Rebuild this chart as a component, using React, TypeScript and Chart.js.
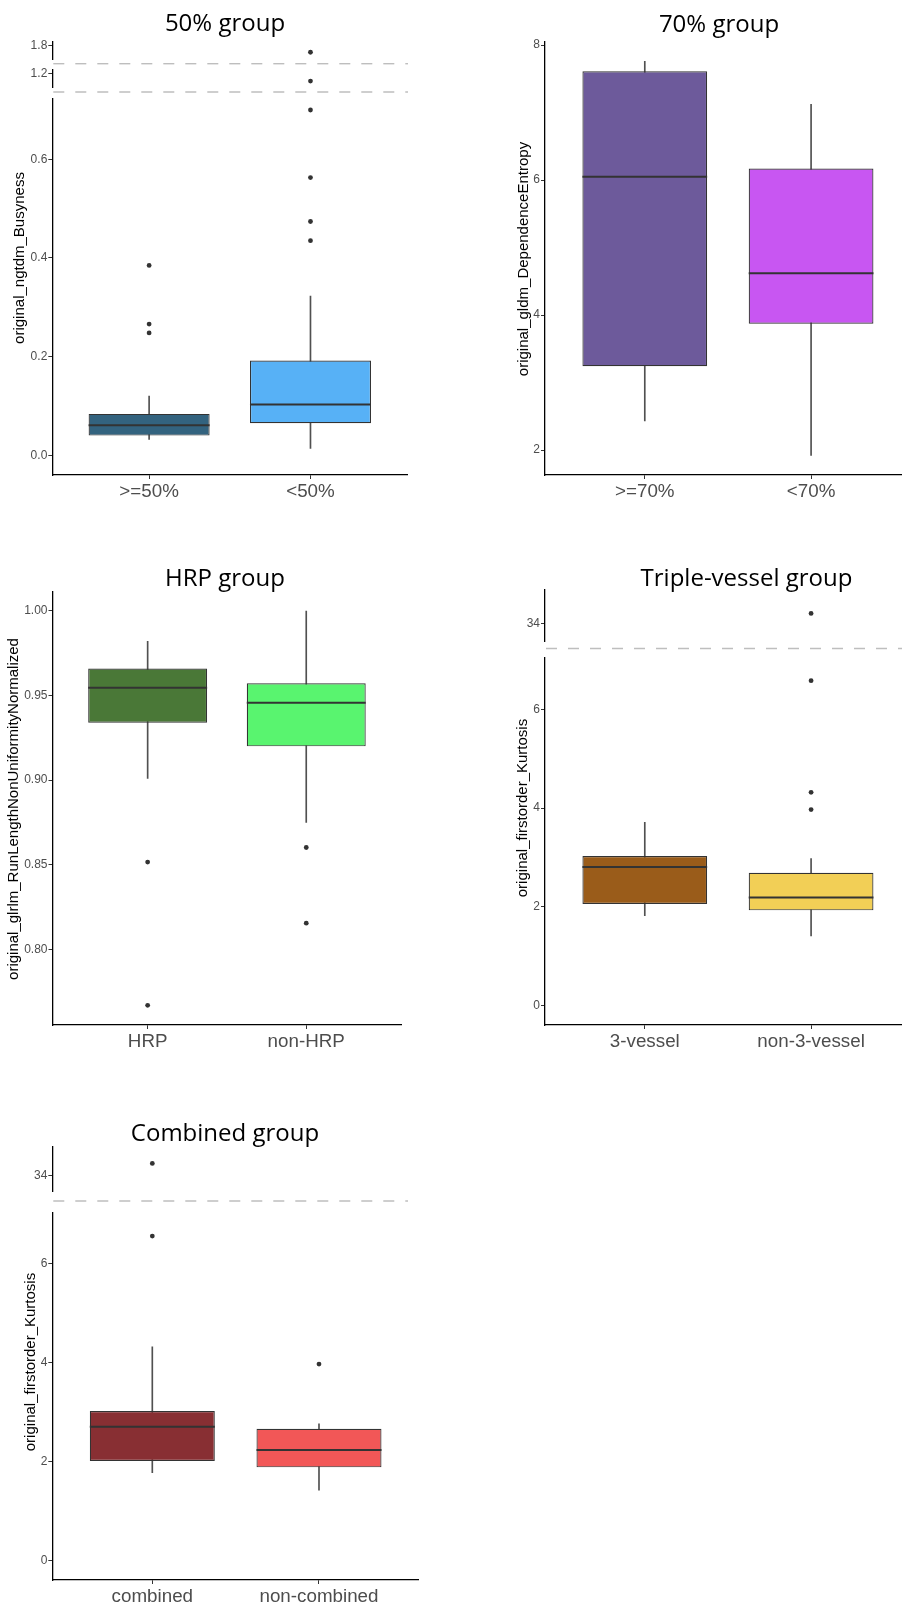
import React, { useEffect, useRef } from 'react';
import { Chart, registerables } from 'chart.js';

Chart.register(...registerables);
Chart.defaults.font.family = '"Liberation Sans", Arial, sans-serif';

// ---------------- data ----------------
// 50% group
const p1Categories = ['>=50%', '<50%'];
const p1WhiskerLow = [0.032, 0.014];
const p1Q1 = [0.040, 0.065];
const p1Median = [0.061, 0.103];
const p1Q3 = [0.084, 0.192];
const p1WhiskerHigh = [0.120, 0.323];
const p1Outliers = [[0.248, 0.266, 0.385], [0.435, 0.474, 0.563, 0.700, 1.10, 1.70]];
const p1TicksTop = [1.8];
const p1TicksMid = [1.2];
const p1TicksMain = [0.0, 0.2, 0.4, 0.6];

// 70% group
const p2Categories = ['>=70%', '<70%'];
const p2WhiskerLow = [2.43, 1.92];
const p2Q1 = [3.24, 3.87];
const p2Median = [6.05, 4.62];
const p2Q3 = [7.61, 6.17];
const p2WhiskerHigh = [7.76, 7.12];
const p2Outliers: number[][] = [[], []];
const p2Ticks = [2, 4, 6, 8];

// HRP group
const p3Categories = ['HRP', 'non-HRP'];
const p3WhiskerLow = [0.901, 0.875];
const p3Q1 = [0.934, 0.920];
const p3Median = [0.9547, 0.9457];
const p3Q3 = [0.966, 0.9573];
const p3WhiskerHigh = [0.982, 1.000];
const p3Outliers = [[0.7669, 0.8516], [0.8155, 0.8602]];
const p3Ticks = [0.80, 0.85, 0.90, 0.95, 1.00];

// Triple-vessel group
const p4Categories = ['3-vessel', 'non-3-vessel'];
const p4WhiskerLow = [1.82, 1.41];
const p4Q1 = [2.06, 1.93];
const p4Median = [2.81, 2.19];
const p4Q3 = [3.03, 2.69];
const p4WhiskerHigh = [3.71, 2.98];
const p4Outliers = [[], [3.97, 4.32, 6.58, 34.2]];
const p4TicksTop = [34];
const p4TicksMain = [0, 2, 4, 6];

// Combined group
const p5Categories = ['combined', 'non-combined'];
const p5WhiskerLow = [1.77, 1.42];
const p5Q1 = [2.01, 1.88];
const p5Median = [2.70, 2.23];
const p5Q3 = [3.02, 2.66];
const p5WhiskerHigh = [4.32, 2.76];
const p5Outliers = [[6.56, 34.24], [3.97]];
const p5TicksTop = [34];
const p5TicksMain = [0, 2, 4, 6];

// ---------------- styling / layout ----------------
const BOX_WIDTH = 0.75;
const PAD = 14;
const X_AXIS_SPACE = 34;
const TICK_FONT = 12;
const X_LABEL_FONT = 18.8;
const TEXT_GREY = '#4D4D4D';
const DARK = '#333333';

type Segment = { top: number; bottom: number; min: number; max: number; ticks: number[] };
type PanelSpec = {
  title: string;
  yTitle: string;
  categories: string[];
  low: number[];
  q1: number[];
  median: number[];
  q3: number[];
  high: number[];
  outliers: number[][];
  fills: string[];
  decimals: number;
  left: number;
  axisX: number;
  plotRight: number;
  xMax: number;
  segments: Segment[];
  dashes: number[];
  dashEnd: number;
  titleX: number;
  titleBaseline: number;
  yTitleX: number;
  yTitleY: number;
};

const panels: PanelSpec[] = [
  {
    title: '50% group', yTitle: 'original_ngtdm_Busyness',
    categories: p1Categories, low: p1WhiskerLow, q1: p1Q1, median: p1Median, q3: p1Q3, high: p1WhiskerHigh,
    outliers: p1Outliers, fills: ['#33637F', '#57B1F6'], decimals: 1,
    left: 0, axisX: 52.3, plotRight: 407.3, xMax: 2.6,
    segments: [
      { top: 41.7, bottom: 59.3, min: 1.6, max: 1.85, ticks: p1TicksTop },
      { top: 69.3, bottom: 87.3, min: 1.02, max: 1.25, ticks: p1TicksMid },
      { top: 98.3, bottom: 475, min: -0.0399, max: 0.7237, ticks: p1TicksMain },
    ],
    dashes: [63.7, 92], dashEnd: 408,
    titleX: 225, titleBaseline: 31.7, yTitleX: 20.5, yTitleY: 258.3,
  },
  {
    title: '70% group', yTitle: 'original_gldm_DependenceEntropy',
    categories: p2Categories, low: p2WhiskerLow, q1: p2Q1, median: p2Median, q3: p2Q3, high: p2WhiskerHigh,
    outliers: p2Outliers, fills: ['#6D5A9B', '#C856F2'], decimals: 0,
    left: 451, axisX: 545, plotRight: 902, xMax: 2.5467,
    segments: [{ top: 41.7, bottom: 475, min: 1.63, max: 8.049, ticks: p2Ticks }],
    dashes: [], dashEnd: 902,
    titleX: 719, titleBaseline: 32.5, yTitleX: 524, yTitleY: 259,
  },
  {
    title: 'HRP group', yTitle: 'original_glrlm_RunLengthNonUniformityNormalized',
    categories: p3Categories, low: p3WhiskerLow, q1: p3Q1, median: p3Median, q3: p3Q3, high: p3WhiskerHigh,
    outliers: p3Outliers, fills: ['#4A7837', '#59F46F'], decimals: 2,
    left: 0, axisX: 52.5, plotRight: 401.4, xMax: 2.6,
    segments: [{ top: 591.7, bottom: 1025, min: 0.7553, max: 1.0114, ticks: p3Ticks }],
    dashes: [], dashEnd: 401,
    titleX: 225, titleBaseline: 586, yTitleX: 13.8, yTitleY: 808.7,
  },
  {
    title: 'Triple-vessel group', yTitle: 'original_firstorder_Kurtosis',
    categories: p4Categories, low: p4WhiskerLow, q1: p4Q1, median: p4Median, q3: p4Q3, high: p4WhiskerHigh,
    outliers: p4Outliers, fills: ['#9A5C1A', '#F2CF56'], decimals: 0,
    left: 451, axisX: 545, plotRight: 902, xMax: 2.5467,
    segments: [
      { top: 590, bottom: 641, min: 33.642, max: 34.674, ticks: p4TicksTop },
      { top: 657.3, bottom: 1025, min: -0.391, max: 7.053, ticks: p4TicksMain },
    ],
    dashes: [648.5], dashEnd: 902,
    titleX: 746.5, titleBaseline: 586, yTitleX: 523.5, yTitleY: 808,
  },
  {
    title: 'Combined group', yTitle: 'original_firstorder_Kurtosis',
    categories: p5Categories, low: p5WhiskerLow, q1: p5Q1, median: p5Median, q3: p5Q3, high: p5WhiskerHigh,
    outliers: p5Outliers, fills: ['#882F33', '#F25757'], decimals: 0,
    left: 0, axisX: 52.3, plotRight: 419, xMax: 2.6,
    segments: [
      { top: 1146.7, bottom: 1191, min: 33.68, max: 34.58, ticks: p5TicksTop },
      { top: 1212.7, bottom: 1580, min: -0.399, max: 7.032, ticks: p5TicksMain },
    ],
    dashes: [1201], dashEnd: 408,
    titleX: 225, titleBaseline: 1141, yTitleX: 31.3, yTitleY: 1362.3,
  },
];

// ---------------- helpers ----------------
function segGeom(p: PanelSpec, si: number) {
  const seg = p.segments[si];
  const last = si === p.segments.length - 1;
  const top = Math.floor(seg.top - PAD);
  const padTop = seg.top - top;
  const inner = seg.bottom - top;
  const height = Math.ceil(inner + (last ? X_AXIS_SPACE : PAD));
  const bottomSpace = height - inner;
  const width = Math.ceil(p.plotRight - p.left);
  const padRight = width - (p.plotRight - p.left);
  return { top, padTop, height, bottomSpace, width, padRight, last };
}

const breakLinePlugin = {
  id: 'breakLine',
  afterDraw(chart: any, _args: any, opts: any) {
    if (!opts || opts.y == null) return;
    const ctx = chart.ctx;
    ctx.save();
    ctx.strokeStyle = '#BEBEBE';
    ctx.lineWidth = 1.4;
    ctx.setLineDash([11, 11]);
    ctx.beginPath();
    ctx.moveTo(opts.x0, opts.y);
    ctx.lineTo(opts.x1, opts.y);
    ctx.stroke();
    ctx.restore();
  },
};

function halfBox(chart: any) {
  const s = chart.scales.x;
  return Math.abs(s.getPixelForValue(1 + BOX_WIDTH / 2) - s.getPixelForValue(1));
}

function buildConfig(p: PanelSpec, si: number): any {
  const seg = p.segments[si];
  const g = segGeom(p, si);
  const xs = p.categories.map((_, i) => i + 1);
  const datasets: any[] = [];
  if (g.last) {
    datasets.push({
      type: 'bar', label: 'whisker',
      data: xs.map((x, i) => ({ x, y: [p.low[i], p.high[i]] })),
      backgroundColor: '#505050', borderWidth: 0, maxBarThickness: 1,
      grouped: false, barPercentage: 1, categoryPercentage: 1, order: 4,
    });
    datasets.push({
      type: 'bar', label: 'box',
      data: xs.map((x, i) => ({ x, y: [p.q1[i], p.q3[i]] })),
      backgroundColor: p.fills, borderColor: DARK, borderWidth: 1.2, borderSkipped: false,
      grouped: false, barPercentage: BOX_WIDTH, categoryPercentage: 1, order: 3,
    });
    datasets.push({
      type: 'line', label: 'median',
      data: xs.map((x, i) => ({ x, y: p.median[i] })),
      showLine: false, pointStyle: 'line',
      pointRadius: (ctx: any) => halfBox(ctx.chart),
      pointBorderWidth: 2, pointBorderColor: DARK, order: 2,
    });
  }
  const pts: { x: number; y: number }[] = [];
  p.outliers.forEach((list, i) => {
    list.forEach((v) => {
      if (v >= seg.min && v <= seg.max) pts.push({ x: i + 1, y: v });
    });
  });
  datasets.push({
    type: 'line', label: 'outliers', data: pts, showLine: false,
    pointStyle: 'circle', pointRadius: 2.4, pointBackgroundColor: DARK,
    pointBorderWidth: 0, order: 1,
  });

  const axisW = p.axisX - p.left;
  const gridOpts = { display: true, offset: false, drawOnChartArea: false, drawTicks: true, tickLength: 4, tickColor: DARK, tickWidth: 1, color: 'rgba(0,0,0,0)' };
  const borderOpts = { display: true, color: '#000000', width: 1.3 };

  const dashY = si > 0 ? p.dashes[si - 1] - g.top : null;

  const xScale: any = {
    type: 'linear',
    display: g.last,
    offset: false,
    min: 0.4,
    max: p.xMax,
    afterBuildTicks: (s: any) => { s.ticks = xs.map((v) => ({ value: v })); },
    ticks: {
      autoSkip: false, maxRotation: 0, minRotation: 0, padding: 2,
      color: TEXT_GREY, font: { size: X_LABEL_FONT },
      callback: (v: any) => p.categories[Math.round(v) - 1] ?? '',
    },
    grid: gridOpts,
    border: borderOpts,
  };
  if (g.last) xScale.afterFit = (s: any) => { s.height = g.bottomSpace; };

  return {
    type: 'bar',
    data: { datasets },
    options: {
      animation: false,
      responsive: false,
      maintainAspectRatio: false,
      events: [],
      layout: {
        autoPadding: false,
        padding: { top: g.padTop, left: 0, right: g.padRight, bottom: g.last ? 0 : g.bottomSpace },
      },
      plugins: {
        legend: { display: false },
        tooltip: { enabled: false },
        title: { display: false },
        breakLine: dashY == null ? {} : { y: dashY, x0: axisW + 1, x1: p.dashEnd - p.left },
      },
      scales: {
        x: xScale,
        y: {
          type: 'linear',
          beginAtZero: false,
          min: seg.min,
          max: seg.max,
          afterBuildTicks: (s: any) => { s.ticks = seg.ticks.map((v) => ({ value: v })); },
          afterFit: (s: any) => { s.width = axisW; },
          ticks: {
            padding: 1, color: TEXT_GREY, font: { size: TICK_FONT },
            callback: (v: any) => Number(v).toFixed(p.decimals),
          },
          grid: gridOpts,
          border: borderOpts,
        },
      },
    },
    plugins: [breakLinePlugin],
  };
}

function Panel({ spec }: { spec: PanelSpec }) {
  const refs = useRef<(HTMLCanvasElement | null)[]>([]);
  useEffect(() => {
    const charts = spec.segments.map((_, si) => new Chart(refs.current[si] as HTMLCanvasElement, buildConfig(spec, si)));
    return () => charts.forEach((c) => c.destroy());
  }, [spec]);
  return (
    <>
      {spec.segments.map((_, si) => {
        const g = segGeom(spec, si);
        return (
          <canvas
            key={si}
            ref={(el) => { refs.current[si] = el; }}
            width={g.width}
            height={g.height}
            style={{ position: 'absolute', left: spec.left, top: g.top, width: g.width, height: g.height, display: 'block' }}
          />
        );
      })}
      <div
        style={{
          position: 'absolute', left: spec.titleX - 250, width: 500, top: spec.titleBaseline - 24.3,
          height: 30, lineHeight: '30px', textAlign: 'center', whiteSpace: 'nowrap',
          fontFamily: '"Open Sans", sans-serif', fontSize: 24, color: '#000',
        }}
      >
        {spec.title}
      </div>
      <div
        style={{
          position: 'absolute', left: spec.yTitleX - 1.3 - 250, width: 500, top: spec.yTitleY - 9,
          height: 18, lineHeight: '18px', textAlign: 'center', whiteSpace: 'nowrap',
          fontFamily: '"Liberation Sans", Arial, sans-serif', fontSize: 15, color: '#000',
          transform: 'rotate(-90deg)', transformOrigin: '50% 50%',
        }}
      >
        {spec.yTitle}
      </div>
    </>
  );
}

export default function App() {
  return (
    <div style={{ position: 'absolute', left: 0, top: 0, width: 902, height: 1609, background: '#ffffff', overflow: 'hidden' }}>
      {panels.map((p, i) => (
        <Panel key={i} spec={p} />
      ))}
    </div>
  );
}
